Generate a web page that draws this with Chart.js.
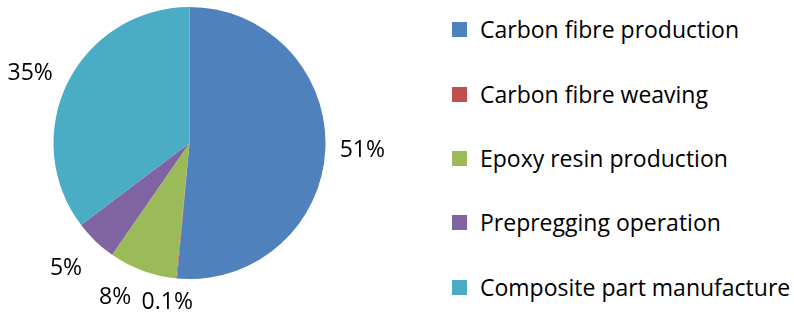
<!DOCTYPE html>
<html>
<head>
<meta charset="utf-8">
<script src="https://cdn.jsdelivr.net/npm/chart.js@4/dist/chart.umd.min.js"></script>
<style>
  body { margin: 0; background: #fff; }
  #wrap { position: relative; width: 794px; height: 316px; overflow: hidden; }
  #pie-box { position: absolute; left: 0; top: 0; width: 440px; height: 316px; }
  #legend { position: absolute; left: 452px; top: 0; font-family: "Open Sans", sans-serif; font-size: 23px; color: #000; }
  .leg-item { position: absolute; left: 0; display: flex; align-items: center; white-space: nowrap; transform: translateY(-50%); }
  .leg-box { width: 15px; height: 15px; margin-right: 13px; }
</style>
</head>
<body>
<div id="wrap">
  <div id="pie-box"><canvas id="pie"></canvas></div>
  <div id="legend"></div>
</div>
<script>
// ── Data ───────────────────────────────────────────────────────
const stages = ['Carbon fibre production', 'Carbon fibre weaving', 'Epoxy resin production', 'Prepregging operation', 'Composite part manufacture'];
const shares = [51, 0.1, 8, 5, 35];
const shareLabels = ['51%', '0.1%', '8%', '5%', '35%'];
const colors = ['#4F81BD', '#C0504D', '#9BBB59', '#8064A2', '#4BACC6'];

// label placement tweaks (angle shift in deg, distance beyond the rim)
const labelAngleShift = [0, 2.5, 5.6, 0.8, -2.7];
const labelOffset = [37, 25, 35, 40, 38];

// ── Percent labels outside the slices ─────────────────────────
const outsideLabels = {
  id: 'outsideLabels',
  afterDatasetsDraw(chart) {
    const ctx = chart.ctx;
    const arcs = chart.getDatasetMeta(0).data;
    ctx.save();
    ctx.font = '23px "Open Sans", sans-serif';
    ctx.fillStyle = '#000';
    ctx.textAlign = 'center';
    ctx.textBaseline = 'middle';
    arcs.forEach((arc, i) => {
      const p = arc.getProps(['x', 'y', 'startAngle', 'endAngle', 'outerRadius'], true);
      const mid = (p.startAngle + p.endAngle) / 2 + labelAngleShift[i] * Math.PI / 180;
      const r = p.outerRadius + labelOffset[i];
      ctx.fillText(shareLabels[i], p.x + r * Math.cos(mid), p.y + r * Math.sin(mid));
    });
    ctx.restore();
  }
};

new Chart(document.getElementById('pie'), {
  type: 'pie',
  data: {
    labels: stages,
    datasets: [{ data: shares, backgroundColor: colors, borderWidth: 0 }]
  },
  options: {
    responsive: true,
    maintainAspectRatio: false,
    animation: false,
    layout: { padding: { left: 53.5, right: 114.5, top: 7, bottom: 37 } },
    plugins: { legend: { display: false }, tooltip: { enabled: false } }
  },
  plugins: [outsideLabels]
});

// ── Legend ─────────────────────────────────────────────────────
const legendRowY = [29, 94, 158, 222, 287];
document.getElementById('legend').innerHTML = stages.map((s, i) => `
  <div class="leg-item" style="top:${legendRowY[i]}px">
    <div class="leg-box" style="background:${colors[i]}"></div><span>${s}</span>
  </div>`).join('');
</script>
</body>
</html>
